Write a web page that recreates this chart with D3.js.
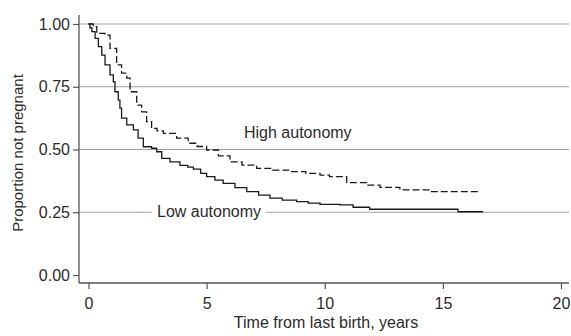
<!DOCTYPE html>
<html>
<head>
<meta charset="utf-8">
<script src="https://cdn.jsdelivr.net/npm/d3@7"></script>
<style>
  html, body { margin: 0; padding: 0; background: #fff; }
  svg { display: block; font-family: "Liberation Sans", Arial, sans-serif; }
</style>
</head>
<body>
<div id="chart"></div>
<script>
// Kaplan-Meier style curves
const lowTimes = [0, 0.06, 0.14, 0.28, 0.42, 0.56, 0.7, 0.91, 1.05, 1.12, 1.26, 1.33, 1.4, 1.62, 1.9, 2.1, 2.32, 2.67, 2.89, 3.1, 3.45, 3.87, 4.2, 4.44, 4.75, 5.0, 5.35, 5.7, 6.2, 6.7, 7.2, 7.68, 8.2, 8.81, 9.3, 9.8, 10.64, 11.2, 11.9, 15.64, 16.7];
const lowSurv  = [1, 0.985, 0.97, 0.943, 0.91, 0.876, 0.837, 0.797, 0.77, 0.73, 0.697, 0.665, 0.625, 0.598, 0.578, 0.545, 0.511, 0.505, 0.491, 0.465, 0.451, 0.437, 0.43, 0.422, 0.405, 0.392, 0.378, 0.365, 0.348, 0.332, 0.318, 0.306, 0.298, 0.292, 0.286, 0.281, 0.279, 0.27, 0.262, 0.252, 0.252];

const highTimes = [0, 0.2, 0.35, 0.7, 0.91, 1.19, 1.4, 1.62, 1.76, 2.04, 2.25, 2.46, 2.67, 2.9, 3.17, 3.73, 4.22, 4.6, 5.0, 5.5, 5.99, 6.5, 7.12, 7.8, 8.53, 9.2, 9.8, 10.2, 10.93, 11.77, 12.34, 13.18, 14.45, 16.48];
const highSurv  = [1, 0.989, 0.963, 0.956, 0.903, 0.837, 0.804, 0.784, 0.73, 0.677, 0.65, 0.611, 0.584, 0.574, 0.564, 0.545, 0.525, 0.512, 0.498, 0.475, 0.451, 0.438, 0.425, 0.418, 0.412, 0.405, 0.398, 0.392, 0.368, 0.358, 0.349, 0.339, 0.332, 0.332];

const xTicks = [0, 5, 10, 15, 20];
const yTicks = [0, 0.25, 0.5, 0.75, 1];

const width = 571, height = 336;

const svg = d3.select("#chart").append("svg")
  .attr("width", width)
  .attr("height", height);

const x = d3.scaleLinear().domain([0, 20]).range([88.5, 561]);
const y = d3.scaleLinear().domain([0, 1]).range([275, 24]);

const axisColor = "#555";
const textColor = "#2b2b2b";

// grid lines
svg.append("g")
  .selectAll("line")
  .data(yTicks.filter(d => d > 0))
  .join("line")
  .attr("x1", 79)
  .attr("x2", 569)
  .attr("y1", d => y(d))
  .attr("y2", d => y(d))
  .attr("stroke", "#a0a0a0")
  .attr("stroke-width", 1);

// y axis
const yAxis = svg.append("g")
  .attr("transform", "translate(79,0)")
  .call(d3.axisLeft(y).tickValues(yTicks).tickFormat(d3.format(".2f")).tickSize(6).tickPadding(3));
yAxis.select(".domain").attr("d", `M0,15V283`).attr("stroke", axisColor).attr("stroke-width", 1.3);

// x axis
const xAxis = svg.append("g")
  .attr("transform", "translate(0,283)")
  .call(d3.axisBottom(x).tickValues(xTicks).tickSize(6).tickPadding(9));
xAxis.select(".domain").attr("d", `M79,0H569`).attr("stroke", axisColor).attr("stroke-width", 1.3);

svg.selectAll(".tick line").attr("stroke", axisColor).attr("stroke-width", 1.2);
svg.selectAll(".tick text")
  .attr("fill", textColor)
  .style("font-size", "16px")
  .style("font-family", "'Liberation Sans', Arial, sans-serif");

// axis titles
svg.append("text")
  .attr("x", 326)
  .attr("y", 327.5)
  .attr("text-anchor", "middle")
  .attr("fill", textColor)
  .style("font-size", "16px")
  .text("Time from last birth, years");

svg.append("text")
  .attr("transform", "translate(23,153) rotate(-90)")
  .attr("text-anchor", "middle")
  .attr("fill", textColor)
  .style("font-size", "15px")
  .text("Proportion not pregnant");

// curves
const line = d3.line()
  .x(d => x(d[0]))
  .y(d => y(d[1]))
  .curve(d3.curveStepAfter);

const lowData = lowTimes.map((t, i) => [t, lowSurv[i]]);
const highData = highTimes.map((t, i) => [t, highSurv[i]]);

svg.append("path")
  .datum(lowData)
  .attr("d", line)
  .attr("fill", "none")
  .attr("stroke", "#1a1a1a")
  .attr("stroke-width", 1.3);

svg.append("path")
  .datum(highData)
  .attr("d", line)
  .attr("fill", "none")
  .attr("stroke", "#1a1a1a")
  .attr("stroke-width", 1.3)
  .attr("stroke-dasharray", "7,3");

// labels
svg.append("text")
  .attr("x", 244)
  .attr("y", 138)
  .attr("fill", textColor)
  .style("font-size", "16px")
  .text("High autonomy");

const lowLabel = svg.append("g");
lowLabel.append("rect")
  .attr("x", 152)
  .attr("y", 203)
  .attr("width", 114)
  .attr("height", 18)
  .attr("fill", "#fff");
lowLabel.append("text")
  .attr("x", 157)
  .attr("y", 217)
  .attr("fill", textColor)
  .style("font-size", "16px")
  .text("Low autonomy");
</script>
</body>
</html>
